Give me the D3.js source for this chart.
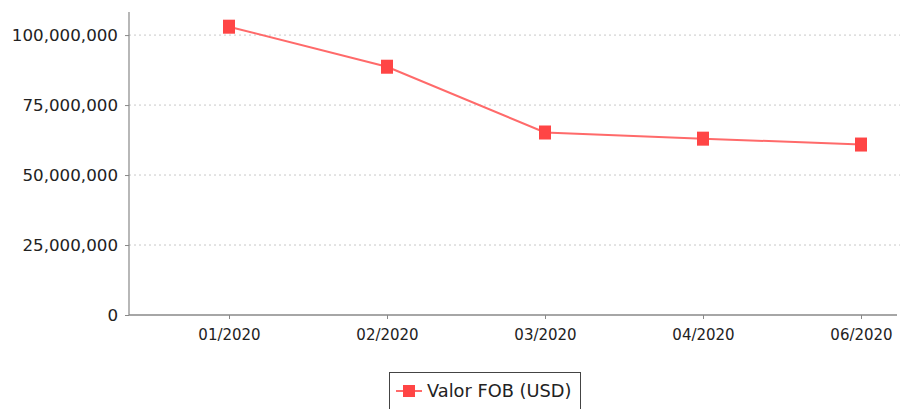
<!DOCTYPE html>
<html>
<head>
<meta charset="utf-8">
<script src="https://cdn.jsdelivr.net/npm/d3@7"></script>
<style>
  body { margin: 0; background: #fff; }
  svg { display: block; }
  text { font-family: "DejaVu Sans", sans-serif; fill: #222; }
</style>
</head>
<body>
<svg id="chart" width="901" height="409"></svg>
<script>
const categories = ["01/2020", "02/2020", "03/2020", "04/2020", "06/2020"];
const values = [103000000, 88700000, 65200000, 63000000, 60900000];
const yTicks = [0, 25000000, 50000000, 75000000, 100000000];
const seriesName = "Valor FOB (USD)";

const svg = d3.select("#chart");
const plot = { left: 129, top: 12, right: 897, bottom: 315 };

const x = d3.scalePoint().domain(categories).range([plot.left + 100, plot.right - 36]);
const y = d3.scaleLinear().domain([0, 108250000]).range([plot.bottom, plot.top]);

// gridlines
svg.append("g").selectAll("line").data(yTicks.filter(d => d > 0)).join("line")
  .attr("x1", plot.left).attr("x2", 900)
  .attr("y1", d => y(d)).attr("y2", d => y(d))
  .attr("stroke", "#c8c8c8").attr("stroke-width", 1).attr("stroke-dasharray", "2,3");

// y axis
const yAxis = svg.append("g").attr("transform", `translate(${plot.left},0)`)
  .call(d3.axisLeft(y).tickValues(yTicks).tickSize(4).tickPadding(7).tickFormat(d3.format(",")));
yAxis.select(".domain").remove();
yAxis.selectAll(".tick line").attr("stroke", "#888");
yAxis.selectAll(".tick text").style("font-size", "16.7px").attr("fill", "#222");
svg.append("line").attr("x1", plot.left).attr("x2", plot.left)
  .attr("y1", plot.top).attr("y2", plot.bottom).attr("stroke", "#888").attr("stroke-width", 1.2);

// x axis
const xAxis = svg.append("g").attr("transform", `translate(0,${plot.bottom})`)
  .call(d3.axisBottom(x).tickSize(4).tickPadding(10));
xAxis.select(".domain").remove();
xAxis.selectAll(".tick line").attr("stroke", "#888");
xAxis.selectAll(".tick text").style("font-size", "15px").attr("fill", "#222");
svg.append("line").attr("x1", plot.left).attr("x2", plot.right)
  .attr("y1", plot.bottom).attr("y2", plot.bottom).attr("stroke", "#888").attr("stroke-width", 1.5);

// line
const data = categories.map((c, i) => ({ c, v: values[i] }));
svg.append("path").datum(data)
  .attr("fill", "none").attr("stroke", "#ff6a6a").attr("stroke-width", 2)
  .attr("d", d3.line().x(d => x(d.c)).y(d => y(d.v)));

svg.append("g").selectAll("rect").data(data).join("rect")
  .attr("x", d => x(d.c) - 6).attr("y", d => y(d.v) - 7)
  .attr("width", 12).attr("height", 14)
  .attr("fill", "#ff4545");

// legend
const lg = svg.append("g");
lg.append("rect").attr("x", 389.5).attr("y", 372.5).attr("width", 191).attr("height", 50)
  .attr("fill", "#fff").attr("stroke", "#444").attr("stroke-width", 1);
lg.append("line").attr("x1", 396).attr("x2", 422).attr("y1", 391).attr("y2", 391)
  .attr("stroke", "#ff6a6a").attr("stroke-width", 2);
lg.append("rect").attr("x", 403).attr("y", 385).attr("width", 12).attr("height", 12).attr("fill", "#ff4545");
lg.append("text").attr("x", 427).attr("y", 397).style("font-size", "17.8px").text(seriesName);
</script>
</body>
</html>
